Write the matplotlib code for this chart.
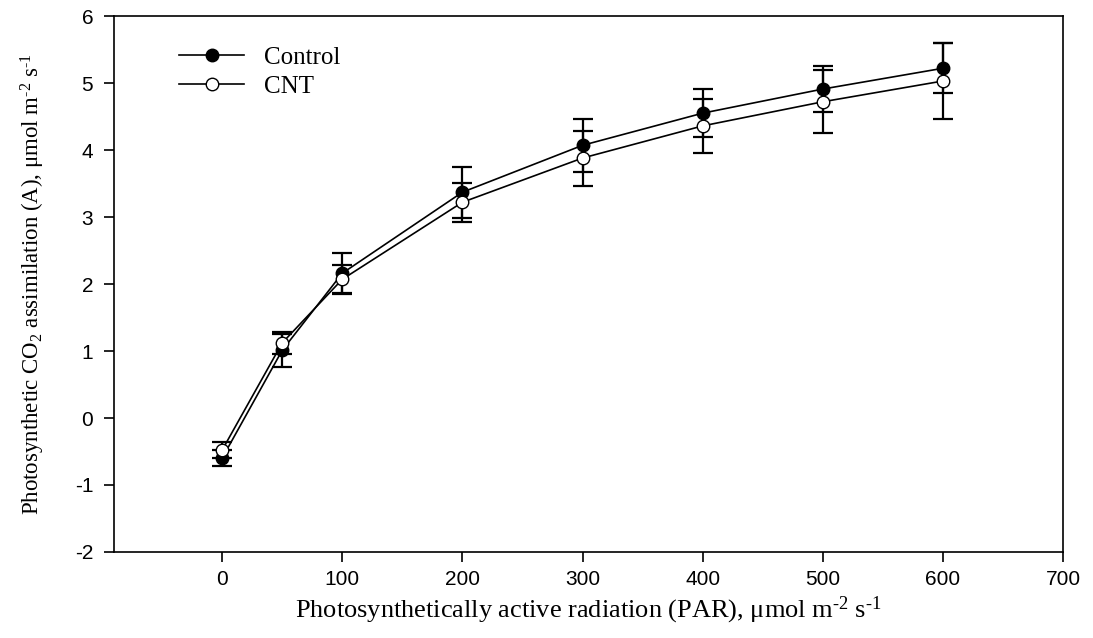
import numpy as np
import matplotlib.pyplot as plt

# Daten
par = [0, 50, 100, 200, 300, 400, 500, 600]
control = [-0.60, 1.01, 2.16, 3.37, 4.07, 4.55, 4.91, 5.22]
control_err = [0.12, 0.25, 0.31, 0.38, 0.40, 0.36, 0.35, 0.37]
cnt = [-0.48, 1.12, 2.07, 3.22, 3.88, 4.36, 4.72, 5.03]
cnt_err = [0.12, 0.16, 0.21, 0.29, 0.41, 0.40, 0.47, 0.57]

plt.rcParams['mathtext.fontset'] = 'custom'
plt.rcParams['mathtext.rm'] = 'Liberation Serif'
plt.rcParams['mathtext.it'] = 'Liberation Serif:italic'
plt.rcParams['axes.unicode_minus'] = False

fig = plt.figure(figsize=(10.93, 6.38), dpi=100)
ax = fig.add_axes([0.1043, 0.1348, 0.8683, 0.8401])

ax.errorbar(par, control, yerr=control_err, color='black', lw=1.2, marker='o',
            ms=9, mfc='black', mec='black', capsize=7.5, capthick=1.6,
            elinewidth=1.6, label='Control', zorder=3)
ax.errorbar(par, cnt, yerr=cnt_err, color='black', lw=1.2, marker='o',
            ms=9, mfc='white', mec='black', capsize=7.5, capthick=1.6,
            elinewidth=1.6, label='CNT', zorder=3)

ax.set_xlim(-90, 700)
ax.set_ylim(-2, 6)
ax.set_xticks(range(0, 701, 100))
ax.set_yticks(range(-2, 7))

for lab in ax.get_xticklabels() + ax.get_yticklabels():
    lab.set_family('Liberation Sans')
    lab.set_fontsize(15)
ax.tick_params(direction='out', length=7, width=1.2)
ax.tick_params(axis='x', pad=6)
ax.tick_params(axis='y', pad=8)
for sp in ax.spines.values():
    sp.set_linewidth(1.2)

units = r'μmol m$^{\text{-2}}$ s$^{\text{-1}}$'
ax.set_xlabel('Photosynthetically active radiation (PAR), ' + units,
              family='Liberation Serif', fontsize=19, labelpad=4)
ax.set_ylabel(r'Photosynthetic CO$_{\mathrm{2}}$ assimilation (A), ' + units,
              family='Liberation Serif', fontsize=16.5, labelpad=20)

handles, labels = ax.get_legend_handles_labels()
handles = [h[0] for h in handles]
ax.legend(handles, labels, loc='upper left', bbox_to_anchor=(0.045, 0.985),
          frameon=False, prop={'family': 'Liberation Serif', 'size': 18},
          handlelength=2.6, handletextpad=0.8, labelspacing=0.25)

fig.savefig('out.png', dpi=100)
